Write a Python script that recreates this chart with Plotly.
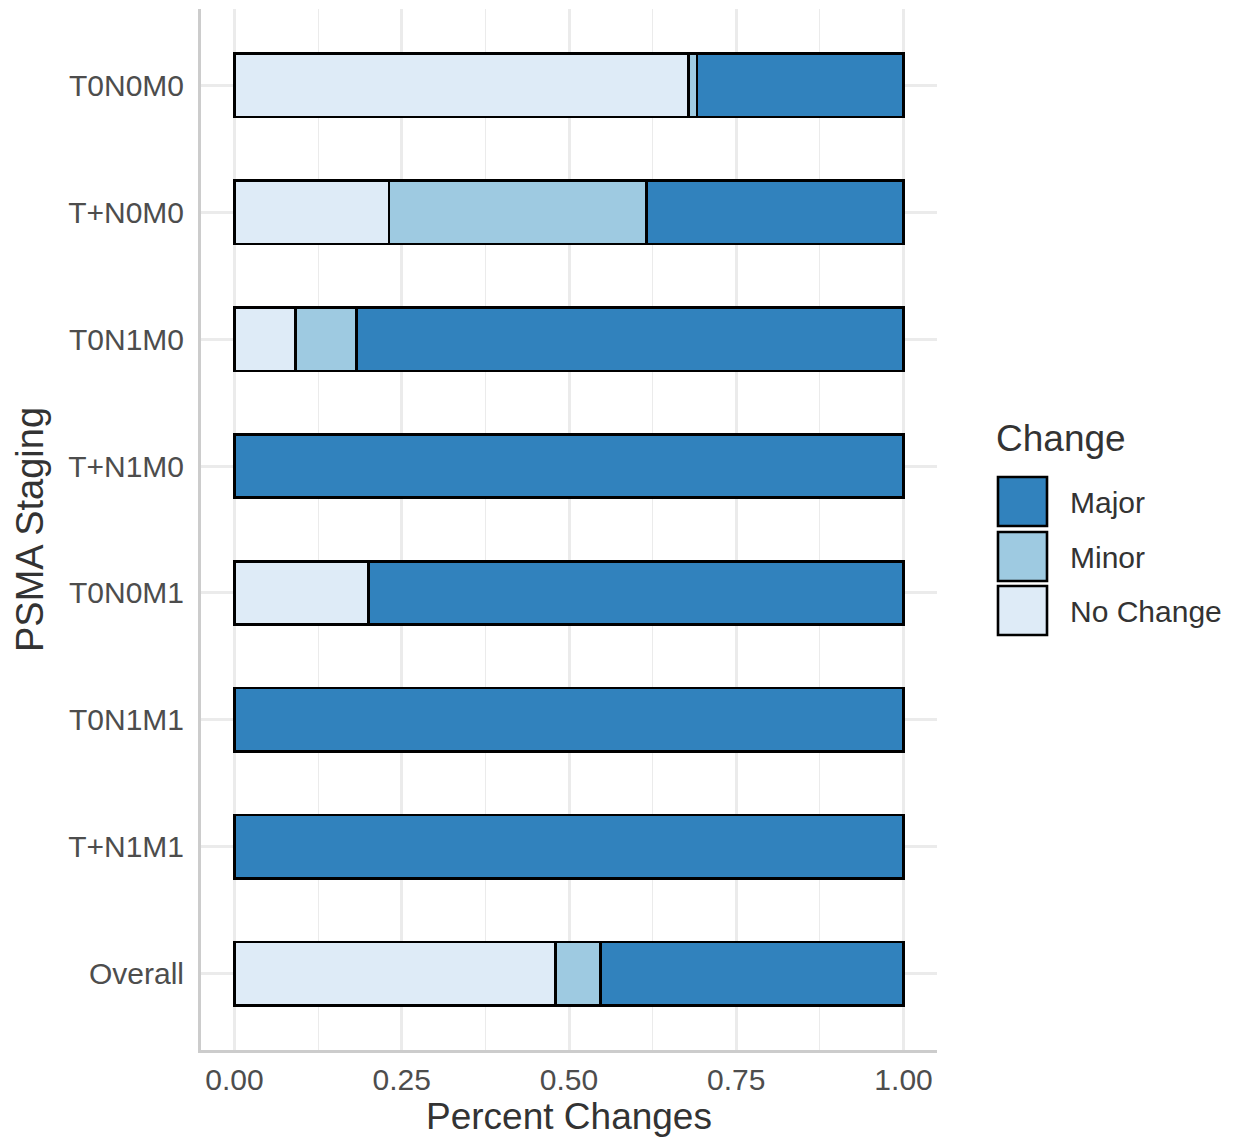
import plotly.graph_objects as go

# ---- data ----
stages = ["T0N0M0", "T+N0M0", "T0N1M0", "T+N1M0", "T0N0M1", "T0N1M1", "T+N1M1", "Overall"]
no_change = [0.679, 0.231, 0.091, 0.0, 0.200, 0.0, 0.0, 0.480]
minor = [0.012, 0.385, 0.091, 0.0, 0.0, 0.0, 0.0, 0.067]
major = [0.309, 0.384, 0.818, 1.0, 0.800, 1.0, 1.0, 0.453]

series_names = ["No Change", "Minor", "Major"]
series_values = [no_change, minor, major]
series_colors = ["#deebf7", "#9ecae1", "#3182bd"]
legend_order = ["Major", "Minor", "No Change"]

x_ticks = [0, 0.25, 0.5, 0.75, 1.0]
x_ticklabels = ["0.00", "0.25", "0.50", "0.75", "1.00"]

W, H = 1239, 1142
L, R, T, B = 201, 937, 9, 1050
FONT = "Liberation Sans, Arial, sans-serif"

fig = go.Figure()
for name, vals, col in zip(series_names, series_values, series_colors):
    fig.add_trace(go.Bar(
        x=vals, y=stages, orientation="h", name=name, width=0.5,
        marker=dict(color=col, line=dict(color="black", width=2.6)),
        showlegend=False,
    ))

def xp(px):
    return (px - L) / (R - L)

def yp(py):
    return (B - py) / (B - T)

# custom legend (ggplot-style large keys)
color_of = dict(zip(series_names, series_colors))
shapes = []
annotations = [dict(text="Change", x=xp(994), y=yp(438), xref="paper", yref="paper",
                    xanchor="left", yanchor="middle", showarrow=False,
                    font=dict(size=37, color="#333333", family=FONT))]
key_tops = [477, 532, 586]
for name, top in zip(legend_order, key_tops):
    shapes.append(dict(type="rect", xref="paper", yref="paper",
                       x0=xp(998), x1=xp(1047), y0=yp(top + 49), y1=yp(top),
                       fillcolor=color_of[name], line=dict(color="black", width=2.6)))
    annotations.append(dict(text=name, x=xp(1068), y=yp(top + 25), xref="paper", yref="paper",
                            xanchor="left", yanchor="middle", showarrow=False,
                            font=dict(size=30, color="#333333", family=FONT)))

fig.update_layout(
    width=W, height=H,
    barmode="stack",
    plot_bgcolor="white", paper_bgcolor="white",
    margin=dict(l=L, r=W - R, t=T, b=H - B, pad=0),
    font=dict(family=FONT, color="#4d4d4d"),
    shapes=shapes, annotations=annotations,
    showlegend=False,
)
fig.update_xaxes(
    range=[-0.05, 1.05], tickvals=x_ticks, ticktext=x_ticklabels,
    showgrid=True, gridcolor="#ebebeb", gridwidth=2.5,
    minor=dict(tick0=0.125, dtick=0.25, showgrid=True, gridcolor="#ebebeb", gridwidth=1.2),
    showline=True, linecolor="#cccccc", linewidth=3,
    zeroline=False, ticks="", ticklabelstandoff=1,
    tickfont=dict(size=30, color="#4d4d4d", family=FONT),
    title=dict(text="Percent Changes", font=dict(size=37, color="#333333", family=FONT), standoff=8),
)
fig.update_yaxes(
    categoryorder="array", categoryarray=stages, range=[7.6, -0.6],
    showgrid=True, gridcolor="#ebebeb", gridwidth=2.5,
    showline=True, linecolor="#cccccc", linewidth=3,
    zeroline=False, ticks="", ticklabelstandoff=8,
    tickfont=dict(size=30, color="#4d4d4d", family=FONT),
    title=dict(text="PSMA Staging", font=dict(size=38, color="#333333", family=FONT), standoff=13),
)

fig.write_html("out.html", config={"displayModeBar": False},
               post_script="document.body.style.margin='0';")
